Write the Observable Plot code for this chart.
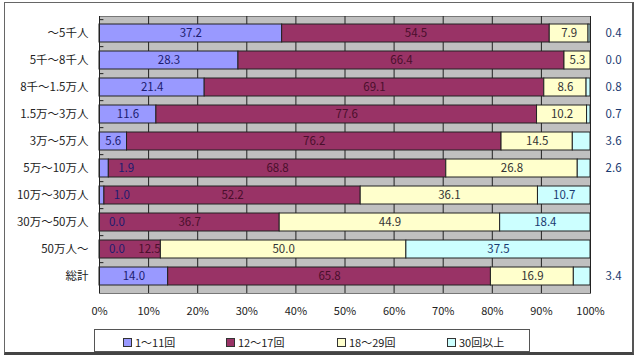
<!DOCTYPE html>
<html><head><meta charset="utf-8">
<script src="https://cdn.jsdelivr.net/npm/d3@7"></script>
<script src="https://cdn.jsdelivr.net/npm/@observablehq/plot@0.6"></script>
<style>
body{margin:0;background:#fff;font-family:"Noto Sans CJK JP",sans-serif;}
#wrap{position:relative;width:639px;height:357px;}
#frame{position:absolute;left:4px;top:2px;width:627px;height:349px;border:1px solid #666;border-right:2px solid #555;border-bottom:3px solid #444;pointer-events:none;}
#legend{position:absolute;left:94px;top:329px;width:434px;height:21px;border:1px solid #555;font-size:11px;color:#222;}
.item{position:absolute;top:4px;display:flex;align-items:center;gap:3px;white-space:nowrap;}
.sw{width:7px;height:7px;border:1px solid #333;}
</style></head>
<body><div id="wrap"><div id="chart"></div><div id="frame"></div><div id="legend"></div></div>
<script>
const categories = ["～5千人","5千～8千人","8千～1.5万人","1.5万～3万人","3万～5万人","5万～10万人","10万～30万人","30万～50万人","50万人～","総計"];
const series = ["1～11回","12～17回","18～29回","30回以上"];
const s1 = [37.2,28.3,21.4,11.6,5.6,1.9,1.0,0.0,0.0,14.0];
const s2 = [54.5,66.4,69.1,77.6,76.2,68.8,52.2,36.7,12.5,65.8];
const s3 = [7.9,5.3,8.6,10.2,14.5,26.8,36.1,44.9,50.0,16.9];
const s4 = [0.4,0.0,0.8,0.7,3.6,2.6,10.7,18.4,37.5,3.4];
const xTicks = [0,10,20,30,40,50,60,70,80,90,100];
const colors = ["#9999ff","#993366","#ffffcc","#ccffff"];
const textColors = ["#1c1c70","#4a0f2c","#333333","#1a3a70"];

const W = 639, H = 326, mL = 99, mR = 49, mT = 16, mB = 33;
const pxPerPct = (W - mL - mR) / 100;
const all = [s1, s2, s3, s4];

// stacked, normalized segments
const segs = [];
const labels = [];
categories.forEach((c, i) => {
  const vals = all.map(s => s[i]);
  const total = d3.sum(vals);
  let acc = 0;
  let prevRight = -Infinity; // in px from plot left
  vals.forEach((v, k) => {
    const x1 = acc / total * 100, x2 = (acc + v) / total * 100;
    acc += v;
    segs.push({cat: c, series: series[k], x1, x2});
    const t = v.toFixed(1);
    const wpx = t.length * 5.6;
    let cx;
    if (k === 3 && v < 5) {
      cx = 104.7 * pxPerPct;
    } else {
      const segW = (x2 - x1) * pxPerPct;
      if (segW < wpx + 4) {
        cx = x2 * pxPerPct + 9 + wpx / 2;
      } else {
        cx = (x1 + x2) / 2 * pxPerPct;
      }
      if (cx - wpx / 2 < prevRight + 4) cx = prevRight + 13 + wpx / 2;
    }
    prevRight = cx + wpx / 2;
    labels.push({cat: c, k, t, x: cx / pxPerPct});
  });
});

const step = (H - mT - mB) / categories.length;

const plot = Plot.plot({
  width: W, height: H,
  marginLeft: mL, marginRight: mR, marginTop: mT, marginBottom: mB,
  style: {fontFamily: '"Noto Sans CJK JP", sans-serif', fontSize: "11px", color: "#222", background: "#fff"},
  x: {domain: [0, 100], label: null},
  y: {domain: categories, paddingInner: 0.32, paddingOuter: 0.16, label: null},
  color: {domain: series, range: colors},
  marks: [
    Plot.frame({fill: "#c0c0c0", stroke: "#777"}),
    Plot.ruleX(xTicks, {stroke: "#222", strokeWidth: 1}),
    Plot.ruleY(categories, {y: d => d, x1: 0, x2: 0.9, dy: -step / 2, stroke: "#222"}),
    Plot.barX(segs, {x1: "x1", x2: "x2", y: "cat", fill: "series", stroke: "#222", strokeWidth: 1}),
    ...[0,1,2,3].map(k => Plot.text(labels.filter(d => d.k === k), {
      x: "x", y: "cat", text: "t", fill: textColors[k], fontSize: 11.5
    })),
    Plot.axisX(xTicks, {tickSize: 0, tickPadding: 14, tickFormat: d => d + "%", fontSize: 11, label: null}),
    Plot.axisY({tickSize: 0, tickPadding: 11, fontSize: 11.5, label: null}),
    Plot.ruleX([0], {stroke: "#222"})
  ]
});
document.getElementById("chart").appendChild(plot);

const offsets = [28, 131, 242, 352];
const leg = document.getElementById("legend");
series.forEach((s, k) => {
  const it = document.createElement("div");
  it.className = "item";
  it.style.left = offsets[k] + "px";
  it.innerHTML = `<span class="sw" style="background:${colors[k]}"></span><span>${s}</span>`;
  leg.appendChild(it);
});
</script></body></html>
